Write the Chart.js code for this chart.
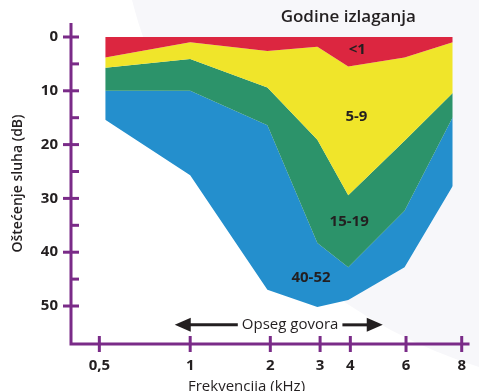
<!DOCTYPE html>
<html>
<head>
<meta charset="utf-8">
<script src="https://cdn.jsdelivr.net/npm/chart.js@4"></script>
<style>
    body { margin: 0; background: #fff; }
</style>
</head>
<body>
<canvas id="hearingChart" width="479" height="391"></canvas>
<script>
// x axis is drawn in "octave-like" units (not a true log scale)
const xTickPos = [0, 1, 1.882, 2.43, 2.763, 3.376, 3.989];
const xTickLabels = ['0,5', '1', '2', '3', '4', '6', '8'];
const yTicks = [0, 10, 20, 30, 40, 50];
const yMinorTicks = [5, 15, 25, 35, 45];

// where each curve has a vertex, same units as xTickPos
const dataX = [0.065, 1.0, 1.85, 2.40, 2.74, 3.36, 3.89];

// hearing loss (dB) by years of exposure
const lossUnder1 = [3.8, 1.0, 2.6, 1.8, 5.5, 3.8, 1.0];
const loss5to9 = [5.7, 4.1, 9.4, 19.1, 29.4, 19.3, 10.4];
const loss15to19 = [10.0, 10.0, 16.4, 38.3, 42.8, 32.3, 14.9];
const loss40to52 = [15.4, 25.7, 47.0, 50.2, 48.9, 42.8, 27.7];

const groupNames = ['<1', '5-9', '15-19', '40-52'];
const groupLabelX = [2.84, 2.83, 2.75, 2.33];
const groupLabelY = [2.4, 14.9, 34.4, 44.8];

const speechRange = [0.83, 3.12];
const speechTextX = 2.10;
const speechY = 53.5;

const textColor = '#231f20';
const axisColor = '#7a2b88';
const fontFamily = '"Open Sans", "DejaVu Sans", sans-serif';

function toPoints(values) {
    return values.map((v, i) => ({ x: dataX[i], y: v }));
}

function band(label, values, color, fill) {
    return {
        label: label,
        data: toPoints(values),
        backgroundColor: color,
        borderWidth: 0,
        pointRadius: 0,
        tension: 0,
        fill: fill
    };
}

function line(ctx, x0, y0, x1, y1) {
    ctx.beginPath();
    ctx.moveTo(x0, y0);
    ctx.lineTo(x1, y1);
    ctx.stroke();
}

function arrowHead(ctx, tipX, y, dir) {
    ctx.beginPath();
    ctx.moveTo(tipX, y);
    ctx.lineTo(tipX - dir * 16, y - 7);
    ctx.lineTo(tipX - dir * 16, y + 7);
    ctx.closePath();
    ctx.fill();
}

const decor = {
    id: 'decor',
    beforeDraw(chart) {
        // soft grey disc in the background
        const ctx = chart.ctx;
        ctx.save();
        ctx.fillStyle = '#f7f7fa';
        ctx.beginPath();
        ctx.arc(635, -128, 519, 0, Math.PI * 2);
        ctx.fill();
        ctx.restore();
    },
    afterDatasetsDraw(chart) {
        const { ctx, chartArea, scales: { x, y } } = chart;
        ctx.save();

        // axes + tick marks
        ctx.strokeStyle = axisColor;
        ctx.lineWidth = 3;
        ctx.beginPath();
        ctx.moveTo(chartArea.left, chartArea.top);
        ctx.lineTo(chartArea.left, chartArea.bottom);
        ctx.lineTo(chartArea.right, chartArea.bottom);
        ctx.stroke();
        yTicks.forEach(v => {
            const py = y.getPixelForValue(v);
            line(ctx, chartArea.left - 8, py, chartArea.left + 8, py);
        });
        yMinorTicks.forEach(v => {
            const py = y.getPixelForValue(v);
            line(ctx, chartArea.left, py, chartArea.left + 8, py);
        });
        xTickPos.forEach(p => {
            const px = x.getPixelForValue(p);
            line(ctx, px, chartArea.bottom - 8, px, chartArea.bottom + 8);
        });

        // group labels
        ctx.fillStyle = textColor;
        ctx.textAlign = 'center';
        ctx.textBaseline = 'middle';
        ctx.font = '700 15px ' + fontFamily;
        groupNames.forEach((name, i) => {
            ctx.fillText(name, x.getPixelForValue(groupLabelX[i]), y.getPixelForValue(groupLabelY[i]));
        });

        // "Opseg govora" arrow
        ctx.font = '500 15px ' + fontFamily;
        const ay = y.getPixelForValue(speechY);
        const tx = x.getPixelForValue(speechTextX);
        const text = 'Opseg govora';
        const w = ctx.measureText(text).width;
        ctx.fillText(text, tx, ay);
        const x0 = x.getPixelForValue(speechRange[0]);
        const x1 = x.getPixelForValue(speechRange[1]);
        ctx.strokeStyle = textColor;
        ctx.lineWidth = 3;
        line(ctx, x0 + 14, ay, tx - w / 2 - 4, ay);
        line(ctx, tx + w / 2 + 4, ay, x1 - 14, ay);
        arrowHead(ctx, x0, ay, -1);
        arrowHead(ctx, x1, ay, 1);

        // x title
        ctx.fillText('Frekvencija (kHz)', x.getPixelForValue(1.62), 387);

        // heading
        ctx.font = '600 17px ' + fontFamily;
        ctx.fillText('Godine izlaganja', x.getPixelForValue(2.74), 17);

        ctx.restore();
    }
};

new Chart(document.getElementById('hearingChart'), {
    type: 'line',
    data: {
        datasets: [
            band('<1', lossUnder1, '#dc2640', 'origin'),
            band('5-9', loss5to9, '#f0e52a', '-1'),
            band('15-19', loss15to19, '#2c936a', '-1'),
            band('40-52', loss40to52, '#248fcd', '-1')
        ]
    },
    options: {
        responsive: false,
        animation: false,
        layout: { padding: { top: 23, left: 0, right: 0, bottom: 0 } },
        scales: {
            x: {
                type: 'linear',
                min: -0.312,
                max: 4.075,
                border: { display: false },
                grid: { display: false, drawTicks: false },
                afterBuildTicks: scale => {
                    scale.ticks = xTickPos.map(v => ({ value: v }));
                },
                afterFit: scale => { scale.height = 47; },
                ticks: {
                    autoSkip: false,
                    maxRotation: 0,
                    padding: 13,
                    color: textColor,
                    font: { family: fontFamily, size: 15, weight: '700' },
                    callback: (val, i) => xTickLabels[i]
                }
            },
            y: {
                type: 'linear',
                reverse: true,
                min: -2.6,
                max: 57.06,
                border: { display: false },
                grid: { display: false, drawTicks: false },
                afterBuildTicks: scale => {
                    scale.ticks = yTicks.map(v => ({ value: v }));
                },
                afterFit: scale => { scale.width = 71; },
                ticks: {
                    padding: 13,
                    color: textColor,
                    font: { family: fontFamily, size: 15, weight: '700' }
                },
                title: {
                    display: true,
                    text: 'Oštećenje sluha (dB)',
                    color: textColor,
                    font: { family: fontFamily, size: 14, weight: '600' },
                    padding: { top: 10, bottom: 0 }
                }
            }
        },
        plugins: {
            legend: { display: false },
            tooltip: { enabled: false }
        }
    },
    plugins: [decor]
});
</script>
</body>
</html>
